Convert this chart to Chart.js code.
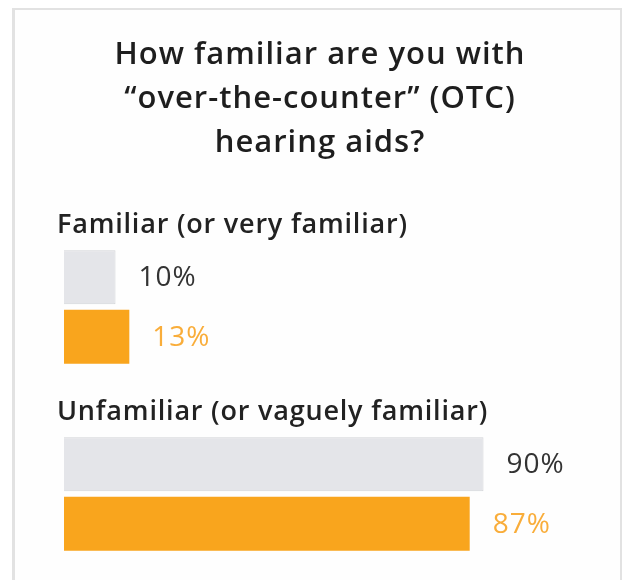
<!DOCTYPE html>
<html>
<head>
<meta charset="utf-8">
<script src="https://cdn.jsdelivr.net/npm/chart.js@4.4.1/dist/chart.umd.min.js"></script>
<style>
  html, body { margin: 0; padding: 0; background: #ffffff; width: 622px; height: 580px; overflow: hidden; }
  #card { position: absolute; left: 12px; top: 8px; width: 605px; height: 640px;
          border: 2px solid #e2e2e2; border-left-width: 3px; border-bottom: none; background: #fefefe; }
  #wrap { position: absolute; left: 0; top: 0; width: 622px; height: 600px; }
</style>
</head>
<body>
<div id="card"></div>
<div id="wrap"><canvas id="chart"></canvas></div>
<script>
// Survey answers, one bar pair per answer group
const categories = ['Familiar (or very familiar)', 'Unfamiliar (or vaguely familiar)'];
const greyValues = [10, 90];
const orangeValues = [13, 87];
const titleLines = ['How familiar are you with', '\u201Cover-the-counter\u201D (OTC)', 'hearing aids?'];

const FONT = '"Open Sans", "Noto Sans", sans-serif';
const AXIS_START = -1.2;

// Three-line question centred across the card
const questionTitle = {
  id: 'questionTitle',
  afterDraw(chart) {
    const { ctx } = chart;
    ctx.save();
    ctx.font = '600 31px ' + FONT;
    ctx.letterSpacing = '1px';
    ctx.fillStyle = '#1e1e1e';
    ctx.textAlign = 'center';
    ctx.textBaseline = 'middle';
    titleLines.forEach((line, i) => ctx.fillText(line, 320, 55 + i * 44));
    ctx.restore();
  }
};

// Group headings written above each pair of bars
const groupHeadings = {
  id: 'groupHeadings',
  afterDatasetsDraw(chart) {
    const { ctx, scales: { y } } = chart;
    ctx.save();
    ctx.font = '600 27px ' + FONT;
    ctx.letterSpacing = '0.8px';
    ctx.fillStyle = '#222222';
    ctx.textBaseline = 'middle';
    ctx.textAlign = 'left';
    chart.data.labels.forEach((label, i) => {
      ctx.fillText(label, 57, y.getPixelForValue(i) - 82);
    });
    ctx.restore();
  }
};

// Percentage written to the right of each bar
const valueLabels = {
  id: 'valueLabels',
  afterDatasetsDraw(chart) {
    const { ctx } = chart;
    ctx.save();
    ctx.font = '400 28px ' + FONT;
    ctx.letterSpacing = '1px';
    ctx.textBaseline = 'middle';
    ctx.textAlign = 'left';
    chart.data.datasets.forEach((ds, di) => {
      chart.getDatasetMeta(di).data.forEach((bar, i) => {
        ctx.fillStyle = ds.labelColor;
        ctx.fillText(ds.data[i] + '%', bar.x + 23, bar.y + 1);
      });
    });
    ctx.restore();
  }
};

new Chart(document.getElementById('chart'), {
  type: 'bar',
  data: {
    labels: categories,
    datasets: [
      {
        data: greyValues,
        base: AXIS_START,
        backgroundColor: '#e4e5e9',
        borderColor: '#d2d3d7',
        borderWidth: 1,
        labelColor: '#333333',
        categoryPercentage: 0.636,
        barPercentage: 0.91
      },
      {
        data: orangeValues,
        base: AXIS_START,
        backgroundColor: '#f9a51d',
        borderWidth: 0,
        labelColor: '#f9ad3a',
        categoryPercentage: 0.636,
        barPercentage: 0.91
      }
    ]
  },
  options: {
    indexAxis: 'y',
    responsive: true,
    maintainAspectRatio: false,
    animation: false,
    events: [],
    layout: { padding: { left: 64, right: 23.5, top: 213.5, bottom: 12.5 } },
    scales: {
      x: { type: 'linear', min: AXIS_START, max: 115, display: false },
      y: { type: 'category', offset: true, display: false }
    },
    plugins: {
      legend: { display: false },
      tooltip: { enabled: false },
      title: { display: false }
    }
  },
  plugins: [questionTitle, groupHeadings, valueLabels]
});
</script>
</body>
</html>
